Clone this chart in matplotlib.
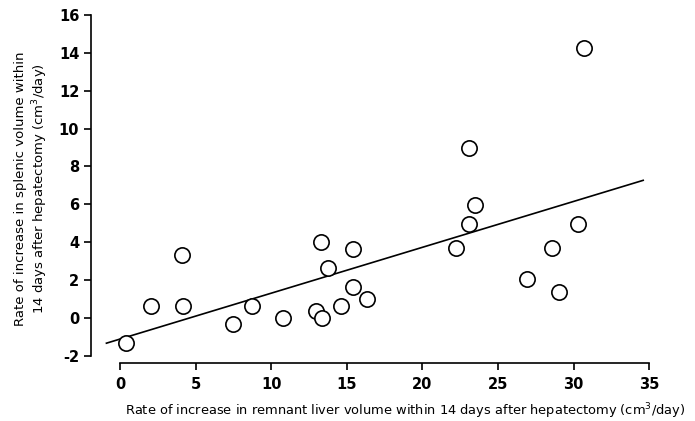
import numpy as np
import matplotlib.pyplot as plt

# remnant liver growth vs splenic growth, 14 days after hepatectomy (cm3/day)
liver_rate = [0.4, 2.03, 4.1, 4.15, 7.5, 8.74, 10.8, 12.93, 13.37, 13.32, 13.74, 14.6,
              15.44, 15.44, 16.33, 22.24, 23.08, 23.5, 26.9, 28.6, 29.0, 30.26, 23.08, 30.66]
spleen_rate = [-1.35, 0.62, 3.31, 0.62, -0.35, 0.62, 0.0, 0.35, 0.0, 3.98, 2.64, 0.62,
               3.61, 1.64, 0.99, 3.67, 4.95, 5.95, 2.03, 3.67, 1.37, 4.98, 8.95, 14.26]
# regression line as printed: slope, intercept
fit_slope = 0.2424
fit_intercept = -1.125
fit_range = [-0.9, 34.6]
x_ticks = [0, 5, 10, 15, 20, 25, 30, 35]
y_ticks = [-2, 0, 2, 4, 6, 8, 10, 12, 14, 16]

plt.rcParams['font.family'] = ['DejaVu Sans']

fig = plt.figure(figsize=(6.95, 4.21), dpi=100)
ax = fig.add_axes([91/695, 58/421, 559/695, 349/421])

ax.plot(liver_rate, spleen_rate, 'o', ms=11, mfc='white', mec='black', mew=1.2, zorder=3)

xl = np.array(fit_range)
ax.plot(xl, fit_slope*xl + fit_intercept, color='black', lw=1.2)

ax.set_xlim(-1.92, 35.05)
ax.set_ylim(-2.39, 16.05)
for s in ['top', 'right']:
    ax.spines[s].set_visible(False)
ax.spines['left'].set_bounds(-2, 16)
ax.spines['bottom'].set_bounds(0, 35)
ax.spines['left'].set_linewidth(1.2)
ax.spines['bottom'].set_linewidth(1.2)

ax.set_xticks(x_ticks)
ax.set_yticks(y_ticks)
ax.tick_params(axis='both', direction='out', length=5, width=1.2, labelsize=10.5)
ax.tick_params(axis='x', pad=5)
ax.set_yticklabels([str(v) for v in y_ticks])
for t in ax.get_xticklabels() + ax.get_yticklabels():
    t.set_fontweight('bold')

ax.set_xlabel('Rate of increase in remnant liver volume within 14 days after hepatectomy (cm$^3$/day)',
              fontsize=9.4)
ax.xaxis.set_label_coords(0.562, -0.11)
ax.set_ylabel('Rate of increase in splenic volume within\n14 days after hepatectomy (cm$^3$/day)',
              fontsize=9.5, labelpad=6, linespacing=1.3)

fig.savefig('out.png', dpi=100)
